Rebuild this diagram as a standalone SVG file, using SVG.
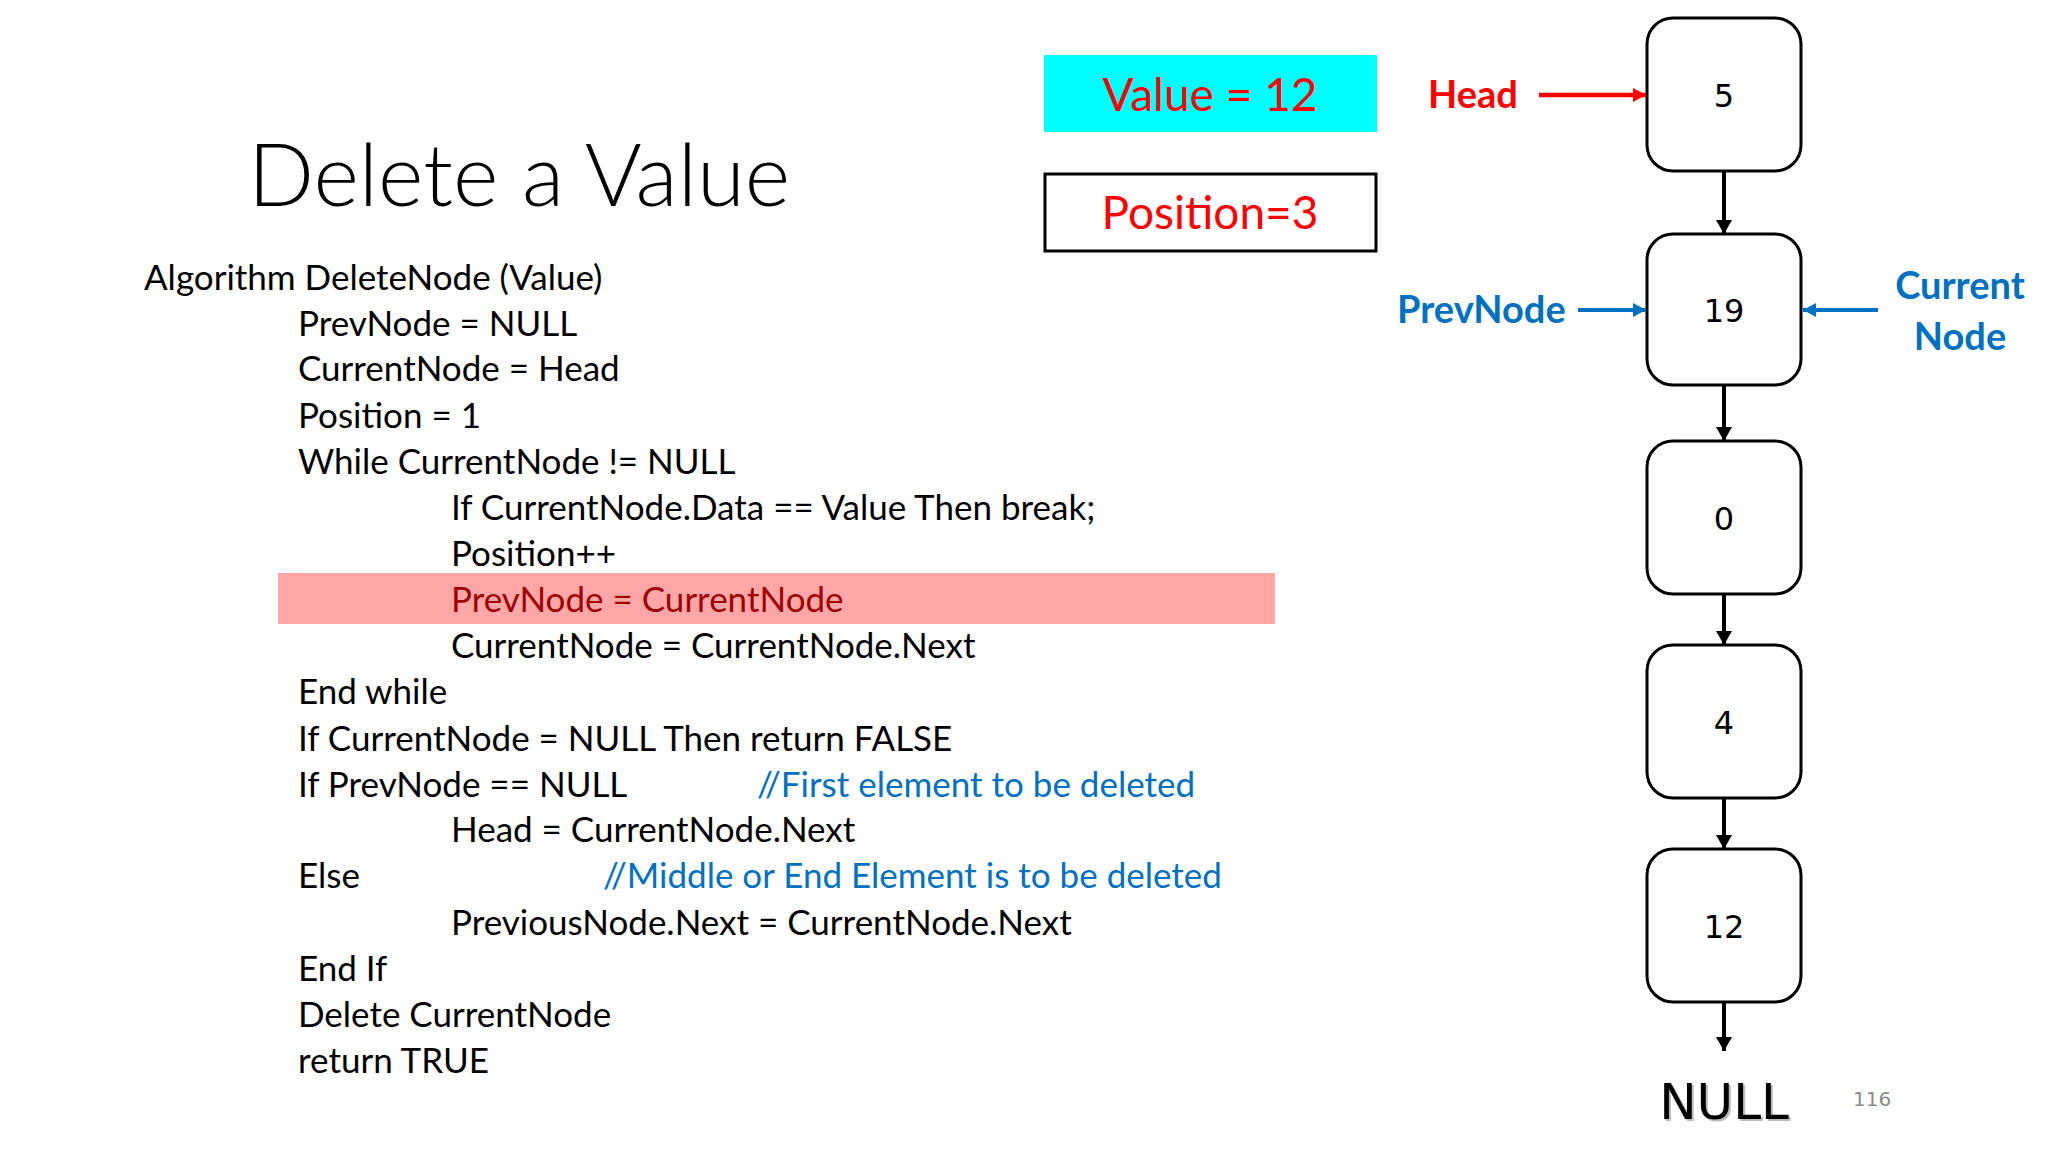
<svg xmlns="http://www.w3.org/2000/svg" width="2048" height="1152" viewBox="0 0 2048 1152">
<style>
.code{font-family:Lato,"Liberation Sans",sans-serif;font-size:35px;fill:#000}
.cmt{fill:#0070C0}
.hl{fill:#A00000}
.num{font-family:"DejaVu Sans",sans-serif;font-size:32px;fill:#000;text-anchor:middle}
.node{fill:#fff;stroke:#000;stroke-width:3}
.lbl{font-family:Lato,"Liberation Sans",sans-serif;font-weight:bold;font-size:38px}
.big{font-family:Lato,"Liberation Sans",sans-serif;font-size:46px;fill:#FF0000;text-anchor:middle}
</style>
<defs>
<marker id="ahk" markerUnits="userSpaceOnUse" markerWidth="15" markerHeight="16" refX="14" refY="8" orient="auto"><path d="M0,0 L14,8 L0,16 z" fill="#000"/></marker>
<marker id="ahr" markerUnits="userSpaceOnUse" markerWidth="14" markerHeight="14" refX="13" refY="7" orient="auto"><path d="M0,0 L13,7 L0,14 z" fill="#FF0000"/></marker>
<marker id="ahb" markerUnits="userSpaceOnUse" markerWidth="14" markerHeight="14" refX="13" refY="7" orient="auto"><path d="M0,0 L13,7 L0,14 z" fill="#0070C0"/></marker>
</defs>
<rect width="2048" height="1152" fill="#fff"/>

<g id="title">
<text x="248" y="206" font-family="Lato,'Liberation Sans',sans-serif" font-weight="300" font-size="87" fill="#000">Delete a Value</text>
</g>

<g id="value-box">
<rect x="1044" y="55" width="333" height="77" fill="#00FFFF"/>
<text class="big" x="1210" y="111">Value = 12</text>
</g>
<g id="position-box">
<rect x="1045" y="174" width="331" height="77" fill="#fff" stroke="#000" stroke-width="3"/>
<text class="big" x="1210" y="229">Position=3</text>
</g>

<g id="code">
<rect x="278" y="573" width="997" height="51" fill="#FFA7A7"/>
<text class="code" x="144" y="290">Algorithm DeleteNode (Value)</text>
<text class="code" x="298" y="336">PrevNode = NULL</text>
<text class="code" x="298" y="381">CurrentNode = Head</text>
<text class="code" x="298" y="428">Position = 1</text>
<text class="code" x="298" y="474">While CurrentNode != NULL</text>
<text class="code" x="451" y="520">If CurrentNode.Data == Value Then break;</text>
<text class="code" x="451" y="566">Position++</text>
<text class="code hl" x="451" y="612">PrevNode = CurrentNode</text>
<text class="code" x="451" y="658">CurrentNode = CurrentNode.Next</text>
<text class="code" x="298" y="704">End while</text>
<text class="code" x="298" y="751">If CurrentNode = NULL Then return FALSE</text>
<text class="code" x="298" y="797">If PrevNode == NULL</text>
<text class="code cmt" x="757" y="797">//First element to be deleted</text>
<text class="code" x="451" y="842">Head = CurrentNode.Next</text>
<text class="code" x="298" y="888">Else</text>
<text class="code cmt" x="603" y="888">//Middle or End Element is to be deleted</text>
<text class="code" x="451" y="935">PreviousNode.Next = CurrentNode.Next</text>
<text class="code" x="298" y="981">End If</text>
<text class="code" x="298" y="1027">Delete CurrentNode</text>
<text class="code" x="298" y="1073">return TRUE</text>
</g>

<g id="node-5"><rect class="node" x="1647" y="18" width="154" height="153" rx="26"/><text class="num" x="1724" y="107">5</text></g>
<g id="node-19"><rect class="node" x="1647" y="234" width="154" height="151" rx="26"/><text class="num" x="1724" y="322">19</text></g>
<g id="node-0"><rect class="node" x="1647" y="441" width="154" height="153" rx="26"/><text class="num" x="1724" y="530">0</text></g>
<g id="node-4"><rect class="node" x="1647" y="645" width="154" height="153" rx="26"/><text class="num" x="1724" y="734">4</text></g>
<g id="node-12"><rect class="node" x="1647" y="849" width="154" height="153" rx="26"/><text class="num" x="1724" y="938">12</text></g>
<g id="null">
<text x="1726" y="1121" font-family="'DejaVu Sans',sans-serif" font-size="50" fill="#bbb" text-anchor="middle">NULL</text>
<text x="1724" y="1119" font-family="'DejaVu Sans',sans-serif" font-size="50" fill="#000" text-anchor="middle">NULL</text>
</g>

<g id="labels">
<text class="lbl" x="1428" y="108" fill="#FF0000">Head</text>
<text class="lbl" x="1397" y="323" fill="#0070C0">PrevNode</text>
<text class="lbl" x="1960" y="299" fill="#0070C0" text-anchor="middle">Current</text>
<text class="lbl" x="1960" y="350" fill="#0070C0" text-anchor="middle">Node</text>
</g>

<g id="connectors" fill="none">
<line x1="1724" y1="172" x2="1724" y2="234" stroke="#000" stroke-width="4" marker-end="url(#ahk)"/>
<line x1="1724" y1="386" x2="1724" y2="441" stroke="#000" stroke-width="4" marker-end="url(#ahk)"/>
<line x1="1724" y1="595" x2="1724" y2="645" stroke="#000" stroke-width="4" marker-end="url(#ahk)"/>
<line x1="1724" y1="799" x2="1724" y2="849" stroke="#000" stroke-width="4" marker-end="url(#ahk)"/>
<line x1="1724" y1="1003" x2="1724" y2="1051" stroke="#000" stroke-width="4" marker-end="url(#ahk)"/>
<line x1="1539" y1="95" x2="1646" y2="95" stroke="#FF0000" stroke-width="4.5" marker-end="url(#ahr)"/>
<line x1="1578" y1="310" x2="1646" y2="310" stroke="#0070C0" stroke-width="4" marker-end="url(#ahb)"/>
<line x1="1878" y1="310" x2="1803" y2="310" stroke="#0070C0" stroke-width="4" marker-end="url(#ahb)"/>
</g>

<text x="1853" y="1106" font-family="'DejaVu Sans',sans-serif" font-size="20" fill="#8c8c8c">116</text>
</svg>
